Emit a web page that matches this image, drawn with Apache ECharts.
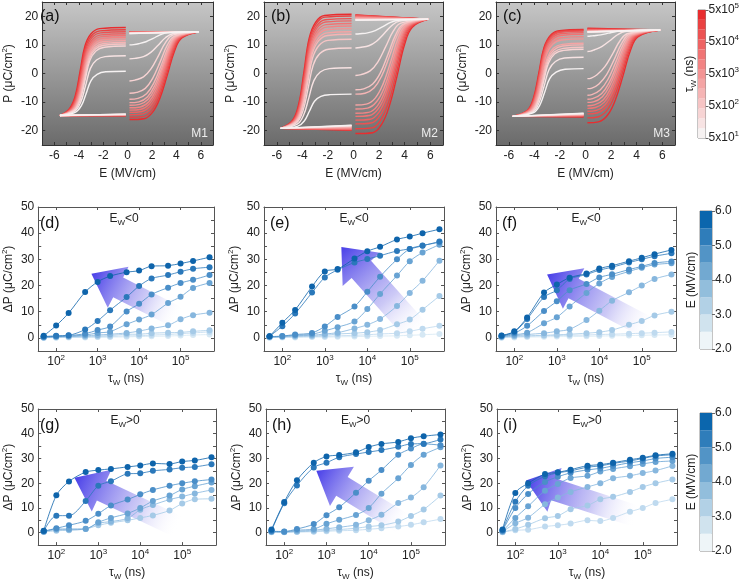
<!DOCTYPE html>
<html>
<head>
<meta charset="utf-8">
<script src="https://cdn.jsdelivr.net/npm/echarts@6.0.0/dist/echarts.min.js"></script>
<style>
html, body { margin: 0; padding: 0; background: #fff; }
#container { width: 742px; height: 582px; }
</style>
</head>
<body>
<div id="container"></div>
<script>
// ---- data ----
var tauW = [50, 100, 200, 500, 1e3, 2e3, 5e3, 1e4, 2e4, 5e4, 1e5, 2e5, 5e5];
// loop colours, 50 ns (white) -> 5e5 ns (red)
var tauColors = ['#f6f2f2','#f7e3e3','#f7d4d4','#f6c4c4','#f5b4b4','#f4a4a4','#f39494','#f28484','#f07474','#ee6363','#ec5252','#ea4141','#e82d2f'];
var tauBarLabels = ['5x10{sup|1}','5x10{sup|2}','5x10{sup|3}','5x10{sup|4}','5x10{sup|5}'];
// E colour bar bands 2.0-2.5 ... 5.5-6.0
var eBandColors = ['#eef5f8','#d0e3ee','#b2d1e6','#92bedc','#72a9d1','#5294c6','#2f7dba','#0b66ad'];
// series colours for E = 6.0, 5.5, ... 2.5
var seriesBlues = ['#0e64ab','#2a78ba','#4a8ec8','#68a3d3','#87b7de','#a5cae7','#bfdaef','#d6e8f4'];

// (a) M1
var aLeft = [
 [[-0.15,0.8],[-1.8,0.6],[-2.5,-0.3],[-3.0,-2.5],[-3.4,-7.0],[-3.8,-11.3],[-4.3,-13.6]],
 [[-0.15,6.2],[-1.85,5.9],[-2.55,4.7],[-3.05,1.8],[-3.45,-4.3],[-3.85,-10.1],[-4.35,-13.2]],
 [[-0.15,9.6],[-1.9,9.2],[-2.6,7.9],[-3.1,4.5],[-3.5,-2.6],[-3.9,-9.4],[-4.4,-13.0]],
 [[-0.15,10.3],[-1.94,9.9],[-2.64,8.6],[-3.14,5.1],[-3.54,-2.2],[-3.94,-9.2],[-4.44,-13.0]],
 [[-0.15,10.9],[-1.98,10.5],[-2.68,9.1],[-3.18,5.5],[-3.58,-1.9],[-3.98,-9.1],[-4.48,-12.9]],
 [[-0.15,11.5],[-2.02,11.1],[-2.72,9.7],[-3.22,6.0],[-3.62,-1.6],[-4.02,-8.9],[-4.52,-12.9]],
 [[-0.15,12.1],[-2.06,11.7],[-2.76,10.2],[-3.26,6.5],[-3.66,-1.3],[-4.06,-8.8],[-4.56,-12.8]],
 [[-0.15,12.7],[-2.1,12.3],[-2.8,10.8],[-3.3,7.0],[-3.7,-1.0],[-4.1,-8.7],[-4.6,-12.8]],
 [[-0.15,13.3],[-2.14,12.9],[-2.84,11.3],[-3.34,7.4],[-3.74,-0.7],[-4.14,-8.5],[-4.64,-12.7]],
 [[-0.15,13.9],[-2.18,13.5],[-2.88,11.9],[-3.38,7.9],[-3.78,-0.4],[-4.18,-8.4],[-4.68,-12.7]],
 [[-0.15,14.6],[-2.22,14.2],[-2.92,12.6],[-3.42,8.5],[-3.82,-0.1],[-4.22,-8.3],[-4.72,-12.7]],
 [[-0.15,15.3],[-2.26,14.9],[-2.96,13.2],[-3.46,9.0],[-3.86,0.3],[-4.26,-8.1],[-4.76,-12.6]],
 [[-0.15,16.1],[-2.3,15.7],[-3.0,13.9],[-3.5,9.6],[-3.9,0.7],[-4.3,-7.9],[-4.8,-12.5]]
];
var aRight = [
 [[0.15,10.0],[0.5,10.1],[0.9,10.4],[1.5,11.1],[2.1,12.3],[2.7,13.6],[3.3,14.3]],
 [[0.15,5.1],[0.6,5.3],[1.3,5.9],[1.9,7.4],[2.5,9.9],[3.1,12.5],[3.7,13.9]],
 [[0.15,-2.6],[0.6,-2.3],[1.3,-1.2],[1.9,1.5],[2.5,6.0],[3.1,10.8],[3.7,13.4]],
 [[0.15,-6.9],[0.75,-6.6],[1.45,-5.2],[2.05,-1.7],[2.65,3.9],[3.25,9.9],[3.85,13.1]],
 [[0.15,-9.0],[0.85,-8.7],[1.55,-7.1],[2.15,-3.3],[2.75,2.8],[3.35,9.4],[3.95,13.0]],
 [[0.15,-10.2],[0.92,-9.9],[1.62,-8.2],[2.22,-4.2],[2.82,2.2],[3.42,9.1],[4.02,12.9]],
 [[0.15,-11.1],[0.98,-10.8],[1.68,-9.0],[2.28,-4.9],[2.88,1.8],[3.48,8.9],[4.08,12.8]],
 [[0.15,-12.0],[1.04,-11.7],[1.74,-9.9],[2.34,-5.6],[2.94,1.3],[3.54,8.7],[4.14,12.7]],
 [[0.15,-12.8],[1.1,-12.5],[1.8,-10.6],[2.4,-6.2],[3.0,0.9],[3.6,8.6],[4.2,12.7]],
 [[0.15,-13.6],[1.16,-13.3],[1.86,-11.3],[2.46,-6.8],[3.06,0.5],[3.66,8.4],[4.26,12.6]],
 [[0.15,-14.4],[1.22,-14.1],[1.92,-12.1],[2.52,-7.4],[3.12,0.1],[3.72,8.2],[4.32,12.6]],
 [[0.15,-15.3],[1.28,-15.0],[1.98,-12.9],[2.58,-8.1],[3.18,-0.4],[3.78,8.0],[4.38,12.5]],
 [[0.15,-16.1],[1.34,-15.8],[2.04,-13.6],[2.64,-8.7],[3.24,-0.75],[3.84,7.8],[4.44,12.4]]
];
var aTipL = [-5.55, -14.7], aTipR = [5.85, 14.6];
var aRetL = [-14.2,-14.2,-14.3,-14.3,-14.4,-14.4,-14.5,-14.5,-14.6,-14.6,-14.7,-14.7,-14.8];
var aRetR = [14.0,14.0,14.1,14.1,14.2,14.2,14.3,14.3,14.4,14.4,14.5,14.5,14.6];

// (b) M2
var bLeft = [
 [[-0.15,-7.2],[-1.85,-7.4],[-2.55,-8.0],[-3.05,-9.7],[-3.45,-13.2],[-3.85,-16.6],[-4.35,-18.4]],
 [[-0.15,2.0],[-1.9,1.7],[-2.6,0.5],[-3.1,-2.5],[-3.5,-8.6],[-3.9,-14.5],[-4.4,-17.7]],
 [[-0.15,8.9],[-1.95,8.5],[-2.65,6.9],[-3.15,3.0],[-3.55,-5.2],[-3.95,-13.0],[-4.45,-17.2]],
 [[-0.15,12.0],[-2.0,11.6],[-2.7,9.8],[-3.2,5.4],[-3.6,-3.6],[-4.0,-12.3],[-4.5,-17.0]],
 [[-0.15,13.7],[-2.03,13.3],[-2.73,11.4],[-3.23,6.8],[-3.63,-2.8],[-4.03,-12.0],[-4.53,-16.9]],
 [[-0.15,14.6],[-2.06,14.2],[-2.76,12.2],[-3.26,7.5],[-3.66,-2.3],[-4.06,-11.8],[-4.56,-16.8]],
 [[-0.15,15.7],[-2.09,15.3],[-2.79,13.3],[-3.29,8.4],[-3.69,-1.8],[-4.09,-11.5],[-4.59,-16.8]],
 [[-0.15,16.6],[-2.12,16.2],[-2.82,14.1],[-3.32,9.1],[-3.72,-1.3],[-4.12,-11.3],[-4.62,-16.7]],
 [[-0.15,17.5],[-2.15,17.1],[-2.85,14.9],[-3.35,9.8],[-3.75,-0.9],[-4.15,-11.1],[-4.65,-16.6]],
 [[-0.15,18.4],[-2.18,18.0],[-2.88,15.8],[-3.38,10.5],[-3.78,-0.4],[-4.18,-10.9],[-4.68,-16.6]],
 [[-0.15,19.2],[-2.21,18.8],[-2.91,16.5],[-3.41,11.1],[-3.81,0.0],[-4.21,-10.8],[-4.71,-16.5]],
 [[-0.15,20.1],[-2.24,19.7],[-2.94,17.3],[-3.44,11.8],[-3.84,0.5],[-4.24,-10.6],[-4.74,-16.5]],
 [[-0.15,20.7],[-2.27,20.3],[-2.97,17.9],[-3.47,12.3],[-3.87,0.75],[-4.27,-10.4],[-4.77,-16.4]]
];
var bRight = [
 [[0.15,13.8],[0.5,13.9],[1.1,14.2],[1.7,15.0],[2.3,16.4],[2.9,17.9],[3.5,18.6]],
 [[0.15,8.9],[0.5,9.1],[1.2,9.7],[1.8,11.3],[2.4,14.0],[3.0,16.8],[3.6,18.3]],
 [[0.15,-0.7],[0.6,-0.4],[1.3,0.9],[1.9,4.0],[2.5,9.2],[3.1,14.7],[3.7,17.6]],
 [[0.15,-5.7],[0.8,-5.4],[1.5,-3.7],[2.1,0.2],[2.7,6.7],[3.3,13.6],[3.9,17.3]],
 [[0.15,-7.2],[0.9,-6.9],[1.6,-5.1],[2.2,-0.9],[2.8,5.9],[3.4,13.2],[4.0,17.2]],
 [[0.15,-11.0],[1.0,-10.7],[1.7,-8.6],[2.3,-3.8],[2.9,4.0],[3.5,12.4],[4.1,16.9]],
 [[0.15,-12.4],[1.1,-12.1],[1.8,-9.9],[2.4,-4.9],[3.0,3.3],[3.6,12.1],[4.2,16.8]],
 [[0.15,-13.9],[1.17,-13.6],[1.87,-11.3],[2.47,-6.0],[3.07,2.6],[3.67,11.8],[4.27,16.7]],
 [[0.15,-15.0],[1.24,-14.7],[1.94,-12.3],[2.54,-6.8],[3.14,2.0],[3.74,11.5],[4.34,16.6]],
 [[0.15,-16.3],[1.3,-16.0],[2.0,-13.5],[2.6,-7.8],[3.2,1.4],[3.8,11.2],[4.4,16.5]],
 [[0.15,-17.6],[1.37,-17.3],[2.07,-14.7],[2.67,-8.8],[3.27,0.7],[3.87,11.0],[4.47,16.4]],
 [[0.15,-19.3],[1.44,-19.0],[2.14,-16.2],[2.74,-10.1],[3.34,-0.15],[3.94,10.6],[4.54,16.3]],
 [[0.15,-21.0],[1.5,-20.7],[2.2,-17.8],[2.8,-11.4],[3.4,-1.0],[4.0,10.2],[4.6,16.2]]
];
var bTipL = [-5.7, -19.2], bTipR = [5.85, 19.0];
var bRetL = [-18.1,-18.2,-18.3,-18.4,-18.6,-18.8,-19.0,-19.2,-19.4,-19.5,-19.6,-19.7,-19.9];
var bRetR = [18.6,18.7,18.8,18.9,19.1,19.3,19.5,19.7,19.9,20.1,20.3,20.4,20.5];

// (c) M3
var cLeft = [
 [[-0.15,1.7],[-1.6,1.5],[-2.3,0.5],[-2.8,-1.8],[-3.2,-6.65],[-3.6,-11.3],[-4.1,-13.8]],
 [[-0.15,5.7],[-1.65,5.4],[-2.35,4.2],[-2.85,1.4],[-3.25,-4.65],[-3.65,-10.4],[-4.15,-13.6]],
 [[-0.15,8.5],[-1.7,8.1],[-2.4,6.9],[-2.9,3.6],[-3.3,-3.25],[-3.7,-9.8],[-4.2,-13.4]],
 [[-0.15,9.2],[-1.74,8.8],[-2.44,7.5],[-2.94,4.1],[-3.34,-2.9],[-3.74,-9.7],[-4.24,-13.3]],
 [[-0.15,10.0],[-1.78,9.6],[-2.48,8.25],[-2.98,4.75],[-3.38,-2.5],[-3.78,-9.5],[-4.28,-13.25]],
 [[-0.15,10.6],[-1.82,10.2],[-2.52,8.8],[-3.02,5.2],[-3.42,-2.2],[-3.82,-9.4],[-4.32,-13.2]],
 [[-0.15,12.1],[-1.86,11.7],[-2.56,10.2],[-3.06,6.4],[-3.46,-1.45],[-3.86,-9.0],[-4.36,-13.1]],
 [[-0.15,12.9],[-1.9,12.5],[-2.6,10.9],[-3.1,7.0],[-3.5,-1.05],[-3.9,-8.9],[-4.4,-13.0]],
 [[-0.15,13.7],[-1.93,13.3],[-2.63,11.7],[-3.13,7.7],[-3.53,-0.65],[-3.93,-8.7],[-4.43,-13.0]],
 [[-0.15,14.3],[-1.96,13.9],[-2.66,12.25],[-3.16,8.15],[-3.56,-0.35],[-3.96,-8.55],[-4.46,-12.95]],
 [[-0.15,14.8],[-1.99,14.4],[-2.69,12.7],[-3.19,8.5],[-3.59,-0.1],[-3.99,-8.4],[-4.49,-12.9]],
 [[-0.15,15.1],[-2.02,14.7],[-2.72,13.0],[-3.22,8.8],[-3.62,0.05],[-4.02,-8.4],[-4.52,-12.9]],
 [[-0.15,15.4],[-2.05,15.0],[-2.75,13.3],[-3.25,9.0],[-3.65,0.2],[-4.05,-8.3],[-4.55,-12.9]]
];
var cRight = [
 [[0.15,13.0],[0.4,13.1],[0.6,13.2],[1.2,13.5],[1.8,14.1],[2.4,14.7],[3.0,15.0]],
 [[0.15,7.7],[0.4,7.8],[0.7,8.3],[1.3,9.5],[1.9,11.45],[2.5,13.55],[3.1,14.7]],
 [[0.15,-1.8],[0.45,-1.6],[0.9,-0.45],[1.5,2.3],[2.1,6.7],[2.7,11.45],[3.3,14.0]],
 [[0.15,-5.3],[0.5,-5.1],[1.05,-3.65],[1.65,-0.4],[2.25,4.95],[2.85,10.7],[3.45,13.8]],
 [[0.15,-7.6],[0.5,-7.4],[1.15,-5.8],[1.75,-2.1],[2.35,3.8],[2.95,10.2],[3.55,13.6]],
 [[0.15,-9.0],[0.55,-8.8],[1.25,-7.1],[1.85,-3.2],[2.45,3.1],[3.05,9.9],[3.65,13.5]],
 [[0.15,-10.1],[0.62,-9.9],[1.32,-8.1],[1.92,-4.0],[2.52,2.55],[3.12,9.6],[3.72,13.4]],
 [[0.15,-11.3],[0.7,-11.0],[1.4,-9.2],[2.0,-4.9],[2.6,1.95],[3.2,9.4],[3.8,13.3]],
 [[0.15,-12.2],[0.77,-11.9],[1.47,-10.0],[2.07,-5.6],[2.67,1.5],[3.27,9.2],[3.87,13.3]],
 [[0.15,-13.2],[0.84,-12.9],[1.54,-10.9],[2.14,-6.4],[2.74,1.0],[3.34,9.0],[3.94,13.2]],
 [[0.15,-14.1],[0.9,-13.8],[1.6,-11.8],[2.2,-7.1],[2.8,0.55],[3.4,8.75],[4.0,13.15]],
 [[0.15,-15.5],[0.96,-15.2],[1.66,-13.0],[2.26,-8.1],[2.86,-0.15],[3.46,8.45],[4.06,13.05]],
 [[0.15,-17.2],[1.02,-16.9],[1.72,-14.6],[2.32,-9.4],[2.92,-1.0],[3.52,8.1],[4.12,12.9]]
];
var cTipL = [-5.7, -15.0], cTipR = [5.85, 15.2];
var cRetL = [-13.9,-14.0,-14.1,-14.2,-14.3,-14.4,-14.5,-14.6,-14.7,-14.8,-14.9,-15.0,-15.2];
var cRetR = [14.5,14.5,14.6,14.6,14.7,14.8,14.9,15.0,15.1,15.3,15.4,15.6,15.8];

// delta P vs tau_W, one row per write field E (MV/cm)
var dE = [6.0, 5.5, 5.0, 4.5, 4.0, 3.5, 3.0, 2.5];
var dP = [
 [0.8,4.7,9.5,17.5,21.4,23.6,25.1,25.7,27.4,27.6,28.4,29.4,30.8],
 [0.5,0.8,1.0,3.2,6.5,10.6,15.6,19.8,22.7,24.0,25.3,26.4,27.0],
 [0.4,0.6,0.9,1.6,3.0,4.4,10.1,13.0,16.6,19.2,21.0,22.2,24.0],
 [0.3,0.5,0.7,1.1,1.9,2.4,5.2,7.0,8.9,13.3,15.7,19.1,21.0],
 [0.2,0.4,0.5,0.8,1.1,1.4,1.9,2.6,3.6,4.8,7.1,8.7,9.6],
 [0.2,0.3,0.4,0.5,0.7,0.9,1.4,1.4,1.8,2.0,2.1,2.5,2.9],
 [0.1,0.2,0.3,0.3,0.4,0.5,0.8,0.8,1.1,1.3,1.6,1.9,2.3],
 [0.1,0.1,0.2,0.2,0.3,0.3,0.4,0.5,0.6,0.7,0.9,1.1,1.3]
];
var eE = [6.0, 5.5, 5.0, 4.5, 4.0, 3.5, 3.0, 2.5];
var eP = [
 [0.6,5.8,10.7,19.6,25.4,26.3,30.3,33.1,34.8,37.6,38.7,40.0,41.5],
 [0.6,4.5,9.3,17.3,23.1,26.0,28.8,30.1,31.4,33.2,34.0,35.2,36.8],
 [0.5,0.7,1.3,1.9,4.4,8.0,12.0,17.6,23.4,30.0,34.0,35.3,36.5],
 [0.4,0.6,1.0,1.4,2.7,4.1,6.3,11.0,16.8,23.8,29.3,32.6,35.6],
 [0.3,0.5,0.8,1.0,1.5,2.0,3.6,5.0,7.2,12.2,17.2,21.8,29.5],
 [0.3,0.4,0.5,0.7,1.0,1.5,1.8,2.2,3.0,5.2,7.0,10.8,16.0],
 [0.2,0.3,0.4,0.5,0.6,0.8,1.0,1.2,1.5,1.8,2.5,3.5,4.6],
 [0.1,0.2,0.2,0.3,0.3,0.4,0.5,0.6,0.7,0.8,1.0,1.2,1.5]
];
var fE = [6.0, 5.5, 5.0, 4.5, 4.0, 3.5, 3.0, 2.5];
var fP = [
 [0.9,2.5,7.8,17.3,20.4,23.0,24.6,26.5,27.6,29.3,30.6,32.0,33.6],
 [0.8,2.3,7.2,15.6,18.2,22.5,24.2,25.9,27.0,28.8,30.0,31.2,32.3],
 [0.6,1.8,4.6,10.3,14.0,18.2,20.6,23.1,24.3,26.1,27.3,28.6,29.2],
 [0.5,1.2,2.0,5.6,7.9,12.0,17.2,20.8,23.3,25.4,26.8,28.0,28.5],
 [0.4,0.8,1.3,1.8,2.5,3.3,6.8,10.4,14.2,17.4,20.0,22.5,24.2],
 [0.3,0.6,0.8,1.0,1.2,1.4,1.8,2.2,3.0,5.0,6.5,8.6,10.0],
 [0.2,0.4,0.6,0.8,0.9,1.0,1.1,1.3,1.4,1.6,1.8,2.0,2.3],
 [0.1,0.2,0.3,0.4,0.5,0.5,0.6,0.7,0.8,0.9,1.0,1.1,1.2]
];
var gE = [6.0, 5.5, 5.0, 4.5, 4.0, 3.5];
var gP = [
 [0.8,15.1,20.7,24.5,25.3,25.8,26.6,27.2,28.0,27.8,28.8,29.2,30.5],
 [0.7,6.9,6.9,12.8,19.0,20.8,23.8,24.0,25.0,25.6,26.3,26.6,27.7],
 [0.6,1.8,3.0,4.8,7.7,11.0,13.4,15.5,17.3,19.0,20.0,20.8,21.5],
 [0.5,1.5,1.5,1.6,4.2,6.0,7.8,10.0,12.8,15.0,17.5,18.8,20.3],
 [0.4,1.2,1.2,1.5,3.8,4.5,5.8,9.3,11.2,13.4,14.6,15.9,17.3],
 [0.3,0.8,1.0,1.5,3.0,4.0,5.0,6.0,7.0,9.0,11.8,13.5,13.7]
];
var hE = [6.0, 5.5, 5.0, 4.5, 4.0, 3.5, 3.0];
var hP = [
 [1.3,12.4,21.2,28.3,30.8,31.4,32.5,34.6,35.9,36.7,38.2,39.0,39.7],
 [0.9,11.9,19.1,26.4,28.3,30.5,31.8,32.6,33.4,34.7,35.9,36.0,37.7],
 [0.6,0.5,1.5,3.5,7.1,10.3,16.2,21.0,25.3,31.5,34.0,35.9,35.4],
 [0.5,0.4,1.0,1.5,3.6,5.2,7.2,10.0,15.8,22.0,27.4,31.5,34.5],
 [0.4,0.3,0.6,1.0,1.6,2.2,3.2,5.0,7.3,12.0,14.2,18.4,27.2],
 [0.3,0.3,0.4,0.6,1.0,1.3,1.8,2.5,3.0,4.5,6.8,9.4,15.0],
 [0.2,0.2,0.3,0.4,0.6,0.8,1.0,1.4,1.8,2.5,3.2,4.2,5.5]
];
var iE = [6.0, 5.5, 5.0, 4.5, 4.0, 3.5, 3.0];
var iP = [
 [1.3,16.1,20.0,23.7,24.4,25.5,27.1,27.5,28.3,29.5,30.3,31.3,31.9],
 [1.0,12.5,19.0,22.8,24.2,25.0,26.5,27.0,28.0,29.0,30.0,31.0,31.5],
 [0.8,10.0,15.7,20.5,22.6,24.2,25.4,26.0,27.0,28.3,29.0,30.0,30.5],
 [0.6,6.0,10.7,17.0,19.7,22.1,23.0,24.7,25.8,26.9,27.8,28.6,29.0],
 [0.4,3.8,6.1,11.5,14.2,16.5,18.5,20.0,22.0,23.0,24.1,25.1,27.0],
 [0.3,1.5,3.2,5.9,6.8,9.5,11.0,13.5,14.5,16.5,18.5,20.0,21.5],
 [0.2,1.0,1.2,2.5,3.0,3.7,5.0,4.7,6.0,8.5,10.0,12.0,13.5]
];

// big guide arrows (tail -> head) in [tau, dP] for panels d..i
var arrowTail = [[9e4,7.6],[1.66e5,1.4],[1.66e5,3.3],[8.1e4,2.4],[7.2e4,3.2],[7.4e4,6.5]];
var arrowHead = [[708,24.5],[2450,34.7],[590,24.2],[270,22.2],[575,25.0],[178,21.1]];

// ---- layout ----
var loopRects = [[33,2,180,143],[264,2,179,143],[496,2,179,143]];
var dpRects = [[34,207,180,144],[264,207,180,144],[496,207,180,144],
               [34,409,182,143],[266,409,179,144],[497,409,180,144]];
var barRects = [[698,10,13,128],[700,211,12,138],[700,413,12,138]];
var loopLetters = ['(a)','(b)','(c)'];
var loopTags = ['M1','M2','M3'];
var dpLetters = ['(d)','(e)','(f)','(g)','(h)','(i)'];
var dpTags = ['E{sub|W}<0','E{sub|W}<0','E{sub|W}<0','E{sub|W}>0','E{sub|W}>0','E{sub|W}>0'];
var barTitles = ['τ{sub|W} (ns)','E (MV/cm)','E (MV/cm)'];

var fontFam = 'Liberation Sans, Arial, Helvetica, sans-serif';
var ink = '#222';
var richSS = {
    sup: { fontSize: 8, lineHeight: 8, verticalAlign: 'top', fontFamily: fontFam, color: ink },
    sub: { fontSize: 8, lineHeight: 8, verticalAlign: 'bottom', fontFamily: fontFam, color: ink }
};

var grids = [], xAxes = [], yAxes = [], series = [];

function addPanel(rect, xa, ya, bg) {
    var gi = grids.length;
    grids.push({ left: rect[0], top: rect[1], width: rect[2], height: rect[3],
        show: !!bg, backgroundColor: bg || 'transparent', borderWidth: 0 });
    var xi = xAxes.length, yi = yAxes.length;
    xAxes.push(Object.assign({ gridIndex: gi, position: 'bottom' }, xa));
    xAxes.push(Object.assign({ gridIndex: gi, position: 'top' }, xa, { name: '', axisLabel: { show: false } }));
    yAxes.push(Object.assign({ gridIndex: gi, position: 'left' }, ya));
    yAxes.push(Object.assign({ gridIndex: gi, position: 'right' }, ya, { name: '', axisLabel: { show: false } }));
    return { g: gi, x: xi, y: yi };
}

function baseAxis(lineColor) {
    return {
        axisLine: { show: true, onZero: false, lineStyle: { color: lineColor, width: 1 } },
        axisTick: { show: true, inside: true, length: 3, lineStyle: { color: lineColor } },
        splitLine: { show: false },
        nameTextStyle: { fontSize: 12, lineHeight: 16, color: ink, fontFamily: fontFam, rich: richSS }
    };
}

var loopX = Object.assign(baseAxis('#333'), {
    type: 'value', min: -7, max: 7, interval: 1,
    name: 'E (MV/cm)', nameLocation: 'middle', nameGap: 21,
    axisLabel: { interval: 0, fontSize: 12, color: ink, fontFamily: fontFam, margin: 5,
        formatter: function (v) { return (v % 2 === 0 && Math.abs(v) < 7) ? String(v) : ''; } }
});
var loopY = Object.assign(baseAxis('#333'), {
    type: 'value', min: -25, max: 25, interval: 5,
    name: 'P (μC/cm{sup|2})', nameLocation: 'middle', nameGap: 19, nameRotate: 90,
    axisLabel: { interval: 0, fontSize: 12, color: ink, fontFamily: fontFam, margin: 4,
        formatter: function (v) { return (v % 10 === 0 && Math.abs(v) < 25) ? String(v) : ''; } }
});
var dpX = Object.assign(baseAxis('#555'), {
    type: 'log', logBase: 10, min: 37, max: 640000,
    name: 'τ{sub|W} (ns)', nameLocation: 'middle', nameGap: 18,
    axisLabel: { fontSize: 12, lineHeight: 16, color: ink, fontFamily: fontFam, margin: 3, rich: richSS,
        showMinLabel: false, showMaxLabel: false,
        formatter: function (v) {
            var e = Math.log10(v), r = Math.round(e);
            return Math.abs(e - r) < 1e-6 ? '10{sup|' + r + '}' : '';
        } }
});
var dpY = Object.assign(baseAxis('#555'), {
    type: 'value', min: -5, max: 50, interval: 5,
    name: 'ΔP (μC/cm{sup|2})', nameLocation: 'middle', nameGap: 20, nameRotate: 90,
    axisLabel: { interval: 0, fontSize: 12, color: ink, fontFamily: fontFam, margin: 4,
        formatter: function (v) { return (v % 10 === 0 && v >= 0) ? String(v) : ''; } }
});

var panelBg = new echarts.graphic.LinearGradient(0, 0, 0, 1, [
    { offset: 0, color: '#c6c6c6' }, { offset: 1, color: '#6b6b6b' }
]);

function addLoop(ax, left, right, tipL, tipR, retL, retR) {
    for (var i = tauColors.length - 1; i >= 0; i--) {
        var col = tauColors[i];
        var common = { type: 'line', xAxisIndex: ax.x, yAxisIndex: ax.y, symbol: 'none',
            silent: true, lineStyle: { width: 1.4, color: col }, z: 3 };
        series.push(Object.assign({}, common, { smooth: 0.4, data: left[i].concat([tipL]) }));
        series.push(Object.assign({}, common, { smooth: 0.4, data: right[i].concat([tipR]) }));
        series.push(Object.assign({}, common, { data: [tipL, [-0.15, retL[i]]] }));
        series.push(Object.assign({}, common, { data: [tipR, [0.15, retR[i]]] }));
    }
}

function eColor(E) { return seriesBlues[Math.round((6 - E) * 2)]; }

function addDP(ax, Es, Ps) {
    for (var k = Es.length - 1; k >= 0; k--) {
        var col = eColor(Es[k]);
        series.push({
            type: 'line', xAxisIndex: ax.x, yAxisIndex: ax.y, silent: true, z: 3,
            data: tauW.map(function (t, j) { return [t, Ps[k][j]]; }),
            smooth: 0.3, symbol: 'circle', symbolSize: 6, showSymbol: true,
            itemStyle: { color: col }, lineStyle: { width: 1, color: col, opacity: 0.8 }
        });
    }
}

var loopAxes = loopRects.map(function (r) { return addPanel(r, loopX, loopY, panelBg); });
addLoop(loopAxes[0], aLeft, aRight, aTipL, aTipR, aRetL, aRetR);
addLoop(loopAxes[1], bLeft, bRight, bTipL, bTipR, bRetL, bRetR);
addLoop(loopAxes[2], cLeft, cRight, cTipL, cTipR, cRetL, cRetR);

var dpAxes = dpRects.map(function (r) { return addPanel(r, dpX, dpY, null); });
addDP(dpAxes[0], dE, dP);
addDP(dpAxes[1], eE, eP);
addDP(dpAxes[2], fE, fP);
addDP(dpAxes[3], gE, gP);
addDP(dpAxes[4], hE, hP);
addDP(dpAxes[5], iE, iP);

// ---- colour bars ----
function addColorBar(rect, colors, labelFmt) {
    var gi = grids.length;
    grids.push({ left: rect[0], top: rect[1], width: rect[2], height: rect[3],
        show: true, borderColor: '#8a8a8a', borderWidth: 1, backgroundColor: 'transparent' });
    var xi = xAxes.length;
    xAxes.push({ gridIndex: gi, type: 'category', data: ['c'], show: false });
    var yi = yAxes.length;
    yAxes.push({ gridIndex: gi, type: 'value', position: 'right', min: 0, max: 4, interval: 1,
        axisLine: { show: false }, splitLine: { show: false },
        axisTick: { show: true, length: 3, lineStyle: { color: '#666' } },
        axisLabel: { fontSize: 12, lineHeight: 16, color: ink, fontFamily: fontFam, margin: 3, rich: richSS, formatter: labelFmt } });
    var step = 4 / colors.length;
    colors.forEach(function (c) {
        series.push({ type: 'bar', xAxisIndex: xi, yAxisIndex: yi, stack: 'cb' + gi, silent: true,
            barWidth: '100%', data: [step], itemStyle: { color: c } });
    });
}
addColorBar(barRects[0], tauColors, function (v) { return tauBarLabels[v]; });
addColorBar(barRects[1], eBandColors, function (v) { return (v + 2).toFixed(1); });
addColorBar(barRects[2], eBandColors, function (v) { return (v + 2).toFixed(1); });

var chart = echarts.init(document.getElementById('container'));
chart.setOption({
    animation: false,
    backgroundColor: '#ffffff',
    textStyle: { fontFamily: fontFam },
    grid: grids, xAxis: xAxes, yAxis: yAxes, series: series
});

// ---- annotations ----
var gfx = [];
function arrowShape(T, P, hl, hw, sw) {
    var dx = P[0] - T[0], dy = P[1] - T[1];
    var len = Math.sqrt(dx * dx + dy * dy);
    var ux = dx / len, uy = dy / len, nx = -uy, ny = ux;
    var bx = P[0] - ux * hl, by = P[1] - uy * hl;
    return [
        [T[0] + nx * sw, T[1] + ny * sw], [bx + nx * sw, by + ny * sw], [bx + nx * hw, by + ny * hw],
        [P[0], P[1]],
        [bx - nx * hw, by - ny * hw], [bx - nx * sw, by - ny * sw], [T[0] - nx * sw, T[1] - ny * sw]
    ];
}
arrowTail.forEach(function (t, k) {
    var ax = dpAxes[k];
    var T = chart.convertToPixel({ xAxisIndex: ax.x, yAxisIndex: ax.y }, t);
    var P = chart.convertToPixel({ xAxisIndex: ax.x, yAxisIndex: ax.y }, arrowHead[k]);
    var wide = k === 1;
    gfx.push({
        type: 'polygon', z: 1, silent: true,
        shape: { points: arrowShape(T, P, 30, wide ? 25 : 23, wide ? 13 : 11) },
        style: { fill: new echarts.graphic.LinearGradient(T[0], T[1], P[0], P[1], [
            { offset: 0, color: 'rgba(255,255,255,0)' },
            { offset: 0.4, color: 'rgba(170,165,240,0.6)' },
            { offset: 1, color: 'rgba(72,62,232,1)' }
        ], true) }
    });
});
loopRects.forEach(function (r, k) {
    gfx.push({ type: 'text', x: r[0] + 7, y: r[1] + 7, z: 10, silent: true,
        style: { text: loopLetters[k], fontSize: 16, fontFamily: fontFam, fill: '#111' } });
    gfx.push({ type: 'text', x: r[0] + r[2] - 5, y: r[1] + r[3] - 5, z: 10, silent: true,
        style: { text: loopTags[k], fontSize: 12, fontFamily: fontFam, fill: '#eeeeee', align: 'right', verticalAlign: 'bottom' } });
});
dpRects.forEach(function (r, k) {
    gfx.push({ type: 'text', x: r[0] + 6, y: r[1] + 9, z: 10, silent: true,
        style: { text: dpLetters[k], fontSize: 16, fontFamily: fontFam, fill: '#111' } });
    gfx.push({ type: 'text', x: r[0] + r[2] / 2, y: r[1] + 4, z: 10, silent: true,
        style: { text: dpTags[k], fontSize: 12, lineHeight: 16, fontFamily: fontFam, fill: ink,
            align: 'center', verticalAlign: 'top',
            rich: { sub: { fontSize: 8, lineHeight: 8, verticalAlign: 'bottom', fontFamily: fontFam, fill: ink } } } });
});
barRects.forEach(function (r, k) {
    gfx.push({ type: 'text', x: r[0] - 8, y: r[1] + r[3] / 2, rotation: Math.PI / 2, z: 10, silent: true,
        style: { text: barTitles[k], fontSize: 12, lineHeight: 16, fontFamily: fontFam, fill: ink,
            align: 'center', verticalAlign: 'middle',
            rich: { sub: { fontSize: 8, lineHeight: 8, verticalAlign: 'bottom', fontFamily: fontFam, fill: ink } } } });
});
chart.setOption({ graphic: gfx });
</script>
</body>
</html>
